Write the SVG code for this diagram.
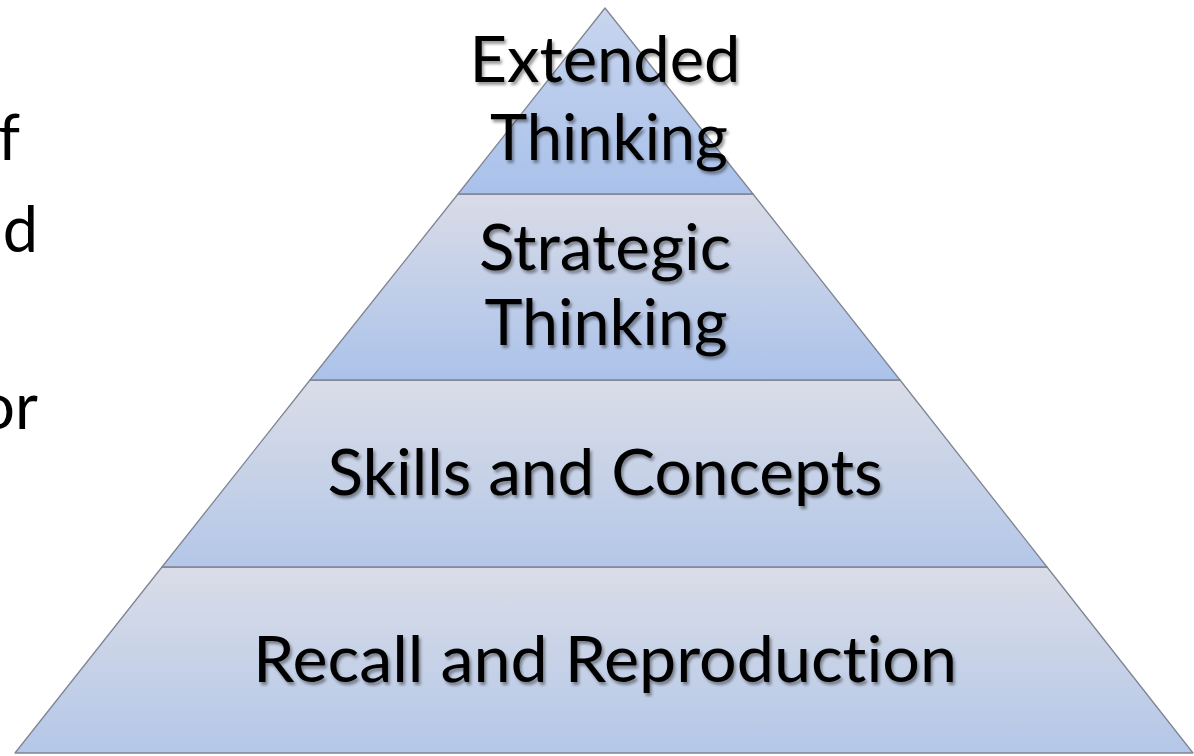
<svg xmlns="http://www.w3.org/2000/svg" width="1194" height="756" viewBox="0 0 1194 756">
  <defs>
    <linearGradient id="gTop" x1="0" y1="0" x2="0" y2="1">
      <stop offset="0" stop-color="#c8d5ee"/>
      <stop offset="1" stop-color="#a9c1ea"/>
    </linearGradient>
    <linearGradient id="gBand" x1="0" y1="0" x2="0" y2="1">
      <stop offset="0" stop-color="#d9dce7"/>
      <stop offset="1" stop-color="#abc2ea"/>
    </linearGradient>
    <linearGradient id="gBandLow" x1="0" y1="0" x2="0" y2="1">
      <stop offset="0" stop-color="#dadde7"/>
      <stop offset="1" stop-color="#b4c7e8"/>
    </linearGradient>
    <filter id="textShadow" x="-10%" y="-20%" width="120%" height="150%">
      <feGaussianBlur in="SourceAlpha" stdDeviation="1.8"/>
      <feOffset dx="2" dy="2.5" result="blur"/>
      <feComponentTransfer>
        <feFuncA type="linear" slope="0.4"/>
      </feComponentTransfer>
      <feMerge>
        <feMergeNode/>
        <feMergeNode in="SourceGraphic"/>
      </feMerge>
    </filter>
  </defs>
  <style>
    .tier { stroke: #7f8592; stroke-width: 1.3; stroke-linejoin: round; }
    text { font-family: "Lato", "Liberation Sans", sans-serif; font-size: 63px; fill: #000; font-variant-ligatures: none; font-feature-settings: "liga" 0, "clig" 0; }
    .label { text-anchor: middle; filter: url(#textShadow); }
    .side { text-anchor: end; }
  </style>

  <rect width="1194" height="756" fill="#ffffff"/>

  <!-- body text running off the left edge -->
  <g id="side-text">
    <text class="side" x="20" y="160">f</text>
    <text class="side" x="38" y="252">d</text>
    <text class="side" x="38" y="429">or</text>
  </g>

  <!-- pyramid tiers, apex (605,8), base 15..1193 at y=753 -->
  <g id="tier-recall">
    <polygon class="tier" fill="url(#gBandLow)" points="162,567 1047,567 1193,753 15,753"/>
    <text class="label" x="605" y="682" textLength="704" lengthAdjust="spacingAndGlyphs">Recall and Reproduction</text>
  </g>
  <g id="tier-skills">
    <polygon class="tier" fill="url(#gBandLow)" points="310,380 900,380 1047,567 162,567"/>
    <text class="label" x="605" y="495" textLength="555" lengthAdjust="spacingAndGlyphs">Skills and Concepts</text>
  </g>
  <g id="tier-strategic">
    <polygon class="tier" fill="url(#gBand)" points="458,194 753,194 900,380 310,380"/>
    <text class="label" x="605" y="270" textLength="252" lengthAdjust="spacingAndGlyphs">Strategic</text>
    <text class="label" x="606" y="345" textLength="243" lengthAdjust="spacingAndGlyphs">Thinking</text>
  </g>
  <g id="tier-extended">
    <polygon class="tier" fill="url(#gTop)" points="605,8 753,194 458,194"/>
    <text class="label" x="605" y="82" textLength="271" lengthAdjust="spacingAndGlyphs">Extended</text>
    <text class="label" x="609" y="160" textLength="238" lengthAdjust="spacingAndGlyphs">Thinking</text>
  </g>
</svg>
